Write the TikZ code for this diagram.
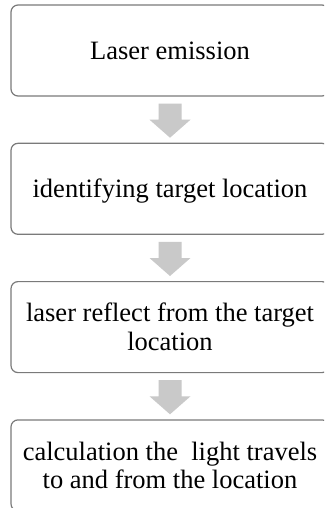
\documentclass[tikz,border=0pt]{standalone}
\usepackage{fontspec}
\setmainfont{Liberation Serif}
\usetikzlibrary{calc}

% struts: first-line height and last-line depth of a step text
\newcommand\flowtop{\rule{0pt}{23.6pt}}
\newcommand\flowbot{\rule[-5.8pt]{0pt}{5.8pt}}

% block arrow from the bottom of one step box to the top of the next
\newcommand\flowarrow[2]{%
  \fill[arrowfill]
    ($(#1.south)+(-11.5,7)$) -- ($(#1.south)+(11.5,7)$)
    -- ($(#2.north)+(11.5,-23)$) -- ($(#2.north)+(20.5,-23)$)
    -- ($(#2.north)+(0,-5)$)
    -- ($(#2.north)+(-20.5,-23)$) -- ($(#2.north)+(-11.5,-23)$)
    -- cycle;}

\definecolor{boxline}{RGB}{122,122,122}
\definecolor{arrowgray}{RGB}{201,201,201}

\tikzset{
  stepbox/.style={draw=boxline, line width=1.2pt, rounded corners=7pt,
    fill=white, minimum width=318pt, minimum height=91pt, inner sep=0pt,
    align=center, text=black,
    font=\fontsize{26.5}{28.5}\selectfont},
  arrowfill/.style={fill=arrowgray}
}

\begin{document}
\begin{tikzpicture}[x=1pt, y=-1pt]
  \clip (0,0) rectangle (324,508);
  \fill[white] (0,0) rectangle (324,508);

  \node[stepbox] (b1) at (170,50.5) {\flowtop Laser emission\flowbot};
  \node[stepbox] (b2) at (170,188.8) {\flowtop identifying target location\flowbot};
  \node[stepbox] (b3) at (170,327.1) {\flowtop laser reflect from the target\\location\flowbot};
  \node[stepbox] (b4) at (170,465.4) {\flowtop calculation the~ light travels\\to and from the location\flowbot};

  \flowarrow{b1}{b2}
  \flowarrow{b2}{b3}
  \flowarrow{b3}{b4}
\end{tikzpicture}
\end{document}
